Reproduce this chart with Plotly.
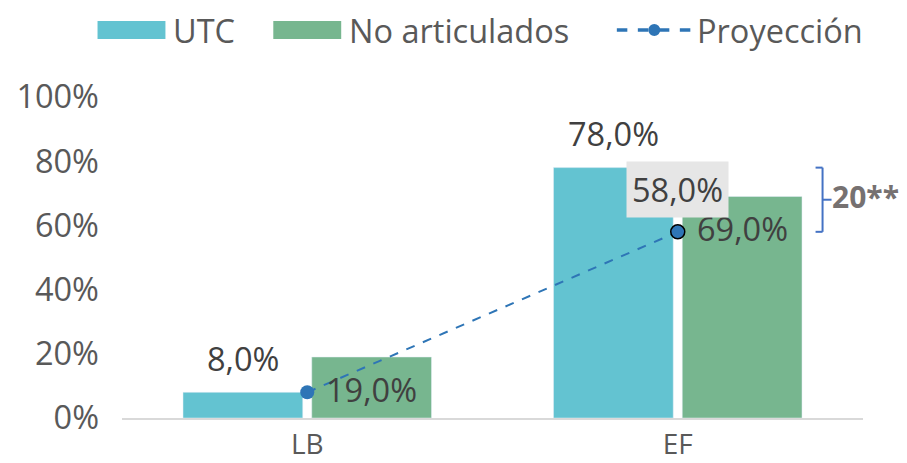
import plotly.graph_objects as go

categories = ["LB", "EF"]
utc = [8.0, 78.0]
no_art = [19.0, 69.0]
proyeccion = [8.0, 58.0]
tick_vals = [0, 20, 40, 60, 80, 100]
tick_text = ["0%", "20%", "40%", "60%", "80%", "100%"]

C_UTC = "#63C3D1"
C_NA = "#77B68F"
C_LINE = "#2E75B6"
FONT = "Open Sans"
FS = 32.5

# the page body has an 8px margin, so the figure is drawn 8px in from the top-left
OFF = 8
W, H = 907 - OFF, 463 - OFF
ML, MR, MT, MB = 121.5 - OFF, 43.5, 97 - OFF, 45
PW, PH = W - ML - MR, H - MT - MB
BARGAP, GROUPGAP = 0.305, 0.07

def px_x(p):
    return (p - OFF - ML) / PW

def px_y(p):
    return (H + OFF - MB - p) / PH

def pct(v):
    return f"{v:.1f}".replace(".", ",") + "%"

# horizontal offset of each bar's centre from its category centre (pixels)
cat_w = PW / len(categories)
slot = cat_w * (1 - BARGAP) / 2
bar_dx = slot / 2

fig = go.Figure()
fig.add_trace(go.Bar(x=categories, y=utc, name="UTC", marker_color=C_UTC, showlegend=False))
fig.add_trace(go.Bar(x=categories, y=no_art, name="No articulados", marker_color=C_NA, showlegend=False))
fig.add_trace(go.Scatter(
    x=categories, y=proyeccion, name="Proyección", mode="lines+markers",
    line=dict(color=C_LINE, width=2, dash="dash"),
    marker=dict(color=C_LINE, size=14, line=dict(color=["rgba(0,0,0,0)", "#000000"], width=[0, 1.5])),
    showlegend=False, cliponaxis=False,
))

label_font = dict(family=FONT, size=FS, color="#404040")
for c, v in zip(categories, utc):
    fig.add_annotation(x=c, y=v, text=pct(v), showarrow=False, xshift=-bar_dx, yshift=34,
                       yanchor="middle", font=label_font)
for c, v in zip(categories, no_art):
    fig.add_annotation(x=c, y=v, text=pct(v), showarrow=False, xshift=bar_dx, yshift=-32,
                       yanchor="middle", font=label_font)

# label for projection end point
fig.add_annotation(x=categories[1], y=proyeccion[1], text=pct(proyeccion[1]),
                   showarrow=False, yshift=42, yanchor="middle", bgcolor="#E6E6E6", borderpad=5,
                   font=label_font)

# bracket showing the difference
diff = utc[1] - proyeccion[1]
bx = px_x(823)
bl = dict(color="#4472C4", width=2)
fig.add_shape(type="line", xref="paper", yref="y", x0=bx, x1=bx, y0=proyeccion[1], y1=utc[1], line=bl)
for yv in (proyeccion[1], utc[1]):
    fig.add_shape(type="line", xref="paper", yref="y", x0=px_x(816), x1=bx, y0=yv, y1=yv, line=bl)
mid = (utc[1] + proyeccion[1]) / 2
fig.add_shape(type="line", xref="paper", yref="y", x0=bx, x1=px_x(832), y0=mid, y1=mid, line=bl)
fig.add_annotation(x=px_x(830), y=mid, xref="paper", yref="y", text=f"<b>{diff:.0f}**</b>",
                   showarrow=False, xanchor="left", yanchor="middle", yshift=3,
                   font=dict(family=FONT, size=30, color="#767171"))

# custom legend
leg_y = px_y(30)
sh = 9 / PH
legend_items = [
    ("UTC", C_UTC, 97, 165, 171),
    ("No articulados", C_NA, 273, 341, 347),
    ("Proyección", None, 617, 692, 695),
]
for label, col, s0, s1, tx in legend_items:
    if col:
        fig.add_shape(type="rect", xref="paper", yref="paper", x0=px_x(s0), x1=px_x(s1),
                      y0=leg_y - sh, y1=leg_y + sh, fillcolor=col, line_width=0)
    else:
        fig.add_shape(type="line", xref="paper", yref="paper", x0=px_x(s0), x1=px_x(s1),
                      y0=leg_y, y1=leg_y, line=dict(color=C_LINE, width=3.5, dash="dash"))
        cx = (s0 + s1) / 2
        fig.add_shape(type="circle", xref="paper", yref="paper", x0=px_x(cx - 6), x1=px_x(cx + 6),
                      y0=leg_y - 6 / PH, y1=leg_y + 6 / PH, fillcolor=C_LINE, line_width=0)
    fig.add_annotation(x=px_x(tx), y=leg_y, xref="paper", yref="paper", text=label, showarrow=False,
                       xanchor="left", yanchor="middle",
                       font=dict(family=FONT, size=FS, color="#595959"))

fig.update_layout(
    width=W, height=H,
    margin=dict(l=ML, r=MR, t=MT, b=MB, pad=0),
    paper_bgcolor="white", plot_bgcolor="white",
    barmode="group", bargap=BARGAP, bargroupgap=GROUPGAP,
    font=dict(family=FONT, size=FS, color="#595959"),
    xaxis=dict(showgrid=False, showline=True, linecolor="#D9D9D9", linewidth=2, automargin=False,
               ticks="", ticklabelstandoff=0,
               tickfont=dict(family=FONT, size=28, color="#595959"), fixedrange=True),
    yaxis=dict(range=[0, 100], tickvals=tick_vals, ticktext=tick_text, showgrid=False, automargin=False,
               zeroline=False, showline=False, ticklabelstandoff=22,
               tickfont=dict(family=FONT, size=FS, color="#595959")),
)

fig.write_html("out.html")
